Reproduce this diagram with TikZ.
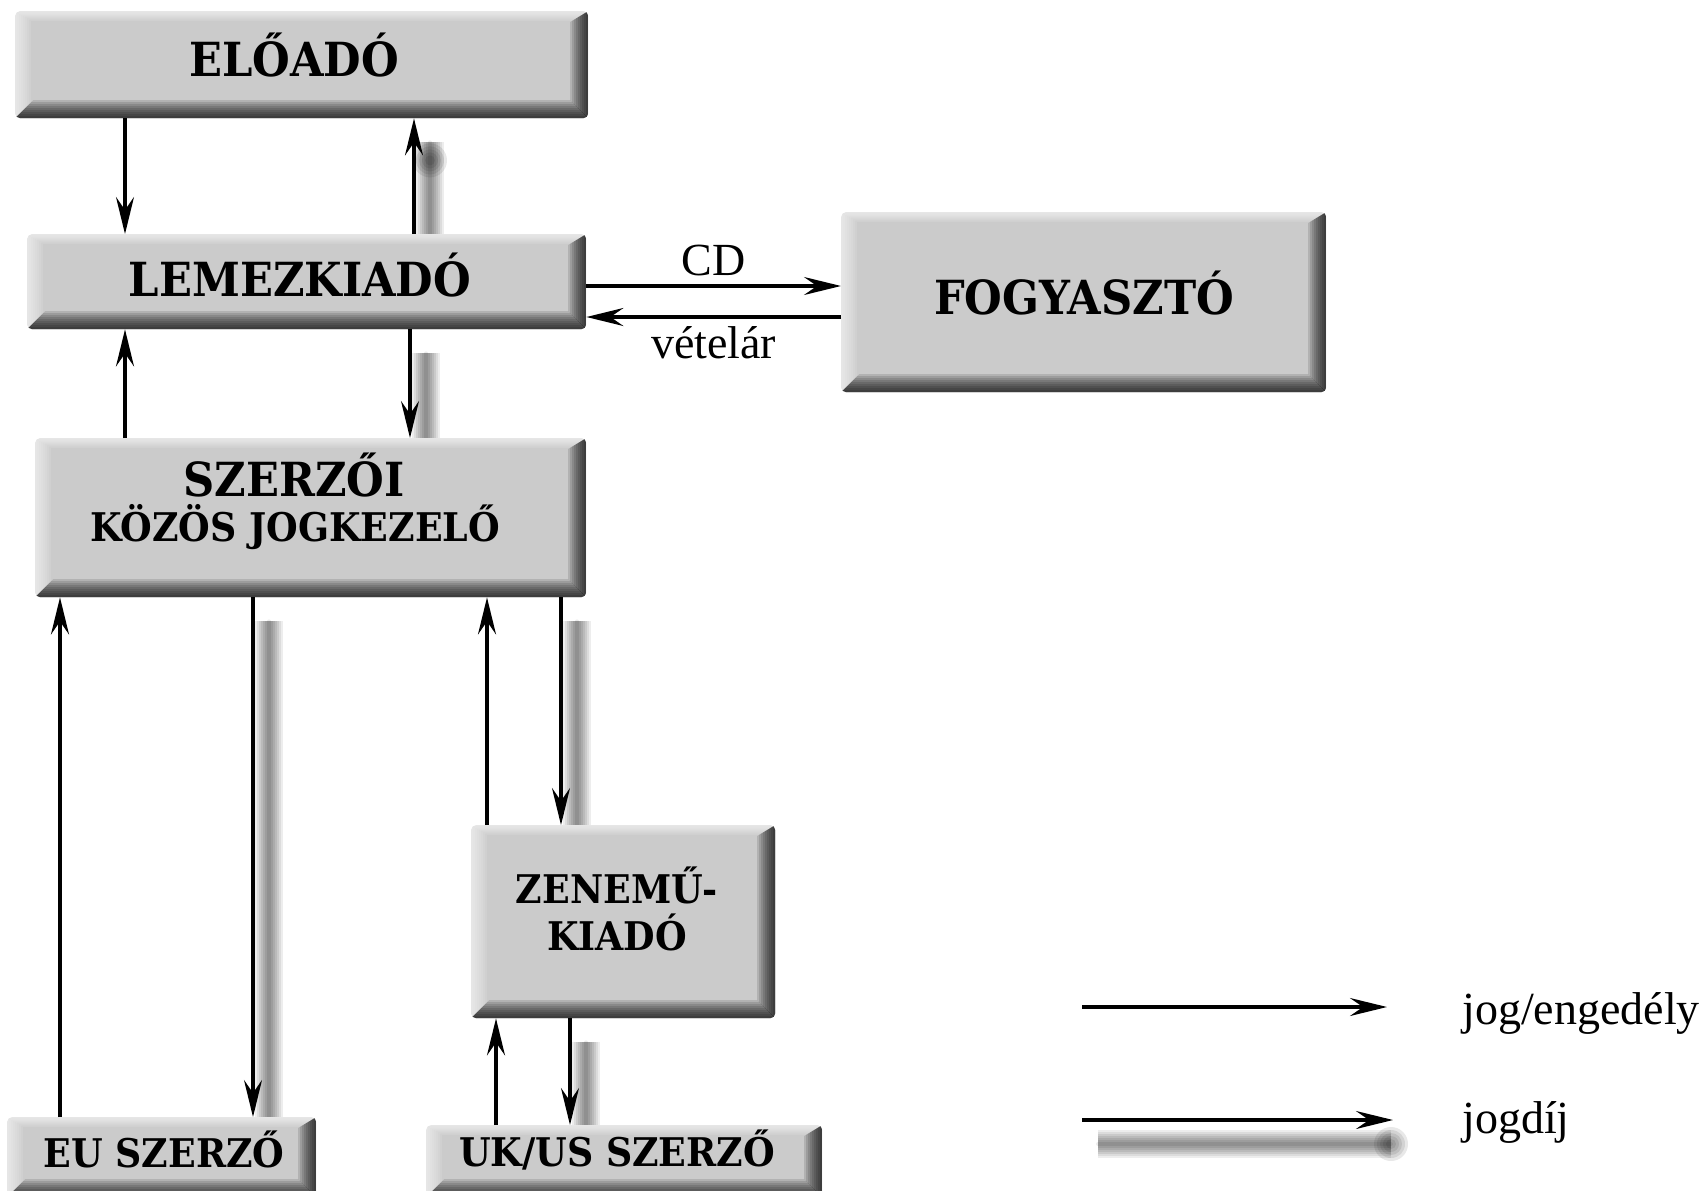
\documentclass[tikz,border=0pt]{standalone}
\usepackage{fontspec}
\setmainfont{Liberation Serif}
\newfontfamily\boxfont{DejaVu Serif}[FakeStretch=0.92]
\usetikzlibrary{arrows.meta,calc}
\pgfdeclarelayer{background}
\pgfsetlayers{background,main}
\definecolor{boxgray}{HTML}{CBCBCB}
\tikzset{
  bevbox/.style={rectangle, fill=boxgray, inner sep=0pt, anchor=north west, rounded corners=5pt,
    path picture={
      \foreach \d in {2,4,...,16}{
        \fill[white, fill opacity=0.1, sharp corners]
          (path picture bounding box.north west) -- (path picture bounding box.south west)
          -- ([xshift=\d pt,yshift=\d pt]path picture bounding box.south west)
          -- ([xshift=\d pt,yshift=-0.6*\d pt]path picture bounding box.north west) -- cycle;
        \fill[white, fill opacity=0.1, sharp corners]
          (path picture bounding box.north west) -- (path picture bounding box.north east)
          -- ([xshift=-\d pt,yshift=-0.6*\d pt]path picture bounding box.north east)
          -- ([xshift=\d pt,yshift=-0.6*\d pt]path picture bounding box.north west) -- cycle;
      }
      \foreach \d in {2,4,...,18}{
        \fill[black, fill opacity=0.12, sharp corners]
          (path picture bounding box.north east) -- (path picture bounding box.south east)
          -- ([xshift=-\d pt,yshift=\d pt]path picture bounding box.south east)
          -- ([xshift=-\d pt,yshift=-0.6*\d pt]path picture bounding box.north east) -- cycle;
        \fill[black, fill opacity=0.12, sharp corners]
          (path picture bounding box.south west) -- (path picture bounding box.south east)
          -- ([xshift=-\d pt,yshift=\d pt]path picture bounding box.south east)
          -- ([xshift=\d pt,yshift=\d pt]path picture bounding box.south west) -- cycle;
      }
    }},
  blbl/.style={font=\boxfont\bfseries\fontsize{47}{52}\selectfont, anchor=base, inner sep=0pt},
  slbl/.style={font=\boxfont\bfseries\fontsize{39.5}{44}\selectfont, anchor=base, inner sep=0pt},
  tlbl/.style={font=\fontsize{46}{50}\selectfont, anchor=base, inner sep=0pt},
  arr/.style={-{Stealth[length=37pt,width=18pt,inset=13pt]}, line width=3.3pt},
  blurline/.style={draw=black, line cap=round,
    preaction={draw, line width=28pt, draw opacity=0.07},
    preaction={draw, line width=24pt, draw opacity=0.07},
    preaction={draw, line width=20pt, draw opacity=0.08},
    preaction={draw, line width=16pt, draw opacity=0.08},
    preaction={draw, line width=12pt, draw opacity=0.08},
    preaction={draw, line width=8pt, draw opacity=0.08},
    line width=4pt, draw opacity=0.08},
  blobdot/.style={fill=black, fill opacity=0.09},
}
\begin{document}
\begin{tikzpicture}[x=1pt,y=1pt]
\useasboundingbox (0,0) rectangle (1708,-1191);
% boxes
\node[bevbox, minimum width=573pt, minimum height=107pt] (eloado) at (15,-11) {};
\node[bevbox, minimum width=559pt, minimum height=95pt] (lemez) at (27,-234) {};
\node[bevbox, minimum width=485pt, minimum height=180pt] (fogy) at (841,-212) {};
\node[bevbox, minimum width=551pt, minimum height=159pt] (szkj) at (35,-438) {};
\node[bevbox, minimum width=304pt, minimum height=193pt] (zenemu) at (471,-825) {};
\node[bevbox, minimum width=309pt, minimum height=80pt] (eu) at (7,-1117) {};
\node[bevbox, minimum width=396pt, minimum height=72pt] (ukus) at (426,-1125) {};
% labels
\node[blbl] (t-eloado) at (294,-76) {ELŐADÓ};
\node[blbl] (t-lemez) at (300,-296) {LEMEZKIADÓ};
\node[blbl] (t-fogy) at (1084,-314) {FOGYASZTÓ};
\node[blbl] (t-szkj1) at (294,-496) {SZERZŐI};
\node[slbl] (t-szkj2) at (295,-541) {KÖZÖS JOGKEZELŐ};
\node[slbl] (t-zen1) at (617,-903) {ZENEMŰ-};
\node[slbl] (t-zen2) at (617,-950) {KIADÓ};
\node[slbl] (t-eu) at (164,-1167) {EU SZERZŐ};
\node[slbl] (t-ukus) at (617,-1166) {UK/US SZERZŐ};
% x positions
\coordinate (xa) at (125,0);
\coordinate (xb) at (414,0);
\coordinate (xc) at (410,0);
\coordinate (xd) at (60,0);
\coordinate (xe) at (253,0);
\coordinate (xf) at (487,0);
\coordinate (xg) at (561,0);
\coordinate (xh) at (496,0);
\coordinate (xi) at (570,0);
\coordinate (ya) at (0,-286);
\coordinate (yb) at (0,-317);
% legend
\coordinate (l1a) at (1082,-1007);
\coordinate (l1b) at (1387,-1007);
\coordinate (l2a) at (1082,-1120);
\coordinate (l2b) at (1393,-1120);
\node[tlbl, anchor=base west] (leg1) at (1462,-1024) {jog/engedély};
\node[tlbl, anchor=base west] (leg2) at (1462,-1133) {jogdíj};
% shadows of the royalty arrows
\begin{pgfonlayer}{background}
\fill[white] (0,0) rectangle (1708,-1191);
\begin{scope}[transform canvas={xshift=16pt,yshift=-24pt}]
\path[blurline] (lemez.north -| xb) -- (eloado.south -| xb);
\path[blurline] (lemez.south -| xc) -- (szkj.north -| xc);
\path[blurline] (szkj.south -| xe) -- (eu.north -| xe);
\path[blurline] (szkj.south -| xg) -- (zenemu.north -| xg);
\path[blurline] (zenemu.south -| xi) -- (ukus.north -| xi);
\path[blurline] (l2a) -- ($(l2b)+(-18,0)$);
\foreach \r in {17,14,11,8,5}{
  \fill[blobdot] ($(eloado.south -| xb)+(0,-18)$) circle (\r);
  \fill[blobdot] ($(l2b)+(-18,0)$) circle (\r);
}
\end{scope}
\end{pgfonlayer}
% connectors
\draw[arr] (eloado.south -| xa) -- (lemez.north -| xa);
\draw[arr] (lemez.north -| xb) -- (eloado.south -| xb);
\draw[arr] (szkj.north -| xa) -- (lemez.south -| xa);
\draw[arr] (lemez.south -| xc) -- (szkj.north -| xc);
\draw[arr] (eu.north -| xd) -- (szkj.south -| xd);
\draw[arr] (szkj.south -| xe) -- (eu.north -| xe);
\draw[arr] (zenemu.north -| xf) -- (szkj.south -| xf);
\draw[arr] (szkj.south -| xg) -- (zenemu.north -| xg);
\draw[arr] (ukus.north -| xh) -- (zenemu.south -| xh);
\draw[arr] (zenemu.south -| xi) -- (ukus.north -| xi);
\draw[arr] (lemez.east |- ya) -- (fogy.west |- ya) node[tlbl, midway, above=8pt, anchor=south] (cd) {CD};
\draw[arr] (fogy.west |- yb) -- (lemez.east |- yb) node[tlbl, midway, below=8pt, anchor=north] (vetelar) {vételár};
\draw[arr] (l1a) -- (l1b);
\draw[arr] (l2a) -- (l2b);
\end{tikzpicture}
\end{document}
